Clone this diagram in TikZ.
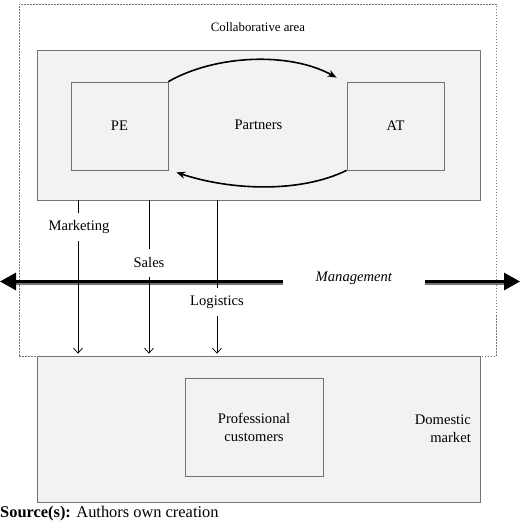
\documentclass[tikz,border=0pt]{standalone}
\usepackage{fontspec}
\setmainfont{Liberation Serif}
\usetikzlibrary{arrows,arrows.meta}

\definecolor{boxgray}{gray}{0.95}
\definecolor{linegray}{gray}{0.45}

\begin{document}
\begin{tikzpicture}[>=stealth, x=1pt, y=1pt, every node/.style={font=\fontsize{14.6}{18}\selectfont}]
			\tikzstyle{area} = [draw=linegray, line width=0.7pt, fill=boxgray, inner sep=0pt]
			\tikzstyle{box} = [draw=linegray, line width=0.7pt, inner sep=0pt, align=center]
			\tikzstyle{flowlabel} = [fill=white, inner xsep=2pt, inner ysep=0pt, minimum height=28pt]
			\tikzstyle{flow} = [line width=0.7pt, -{Straight Barb[length=5pt,width=9pt]}, shorten >=2pt]
			\tikzstyle{swap} = [line width=1.6pt, -{Stealth[length=9pt,width=7pt]}]
			\tikzstyle{mgmtline} = [line width=3pt, -{Triangle[length=16pt,width=17pt]},
				preaction={draw=linegray, line width=2.5pt, -, shorten >=15pt, transform canvas={yshift=-2pt}}]
			\useasboundingbox (0,0) rectangle (520,524);

			% collaborative area
			\node[area, minimum width=443pt, minimum height=150pt] (partners) at (258.5,399) {Partners};
			\node[box, minimum width=97pt, minimum height=88pt] (pe) at (119.5,398) {PE};
			\node[box, minimum width=97pt, minimum height=88pt] (at) at (395.5,398) {AT};
			\node[font=\fontsize{12.8}{15}\selectfont] (collab) at (258,497) {Collaborative area};

			% domestic market
			\node[area, minimum width=443pt, minimum height=146pt] (domestic) at (258.5,95) {};
			\node[box, minimum width=138pt, minimum height=98pt] (prof) at (254,97) {Professional\\customers};
			\node[align=right, anchor=east, inner sep=0pt] (dm) at (471,95) {Domestic\\market};

			\draw[linegray, line width=0.6pt, dash pattern=on 1.5pt off 1.5pt] (19,168) rectangle (496,520);

			% management
			\coordinate (ml) at (0,242.5);
			\coordinate (mr) at (520,242.5);
			\node[inner xsep=33pt] (mgmt) at (354,246) {\textit{Management}};
			\draw[mgmtline] ([yshift=-3.5pt]mgmt.west) -- (ml);
			\draw[mgmtline] ([yshift=-3.5pt]mgmt.east) -- (mr);

			% flows
			\coordinate (mkpos) at (78,297);
			\coordinate (slpos) at (149,261);
			\coordinate (lgpos) at (217,222);
			\draw[flow] (partners.south -| mkpos) -- (domestic.north -| mkpos);
			\draw[flow] (partners.south -| slpos) -- (domestic.north -| slpos);
			\draw[flow] (partners.south -| lgpos) -- (domestic.north -| lgpos);
			\node[flowlabel] (mk) at ([xshift=1pt]mkpos) {Marketing};
			\node[flowlabel] (sl) at (slpos) {Sales};
			\node[flowlabel] (lg) at (lgpos) {Logistics};

			% exchange between partners
			\draw[swap] (pe.north east) .. controls +(47,27) and +(-47,26) .. ([shift={(-10pt,4pt)}]at.north west);
			\draw[swap] (at.south west) .. controls +(-47,-23) and +(54,-18) .. ([shift={(8pt,-2pt)}]pe.south east);

			\node[anchor=base west, inner sep=0pt, font=\fontsize{16.4}{19}\selectfont] (src) at (0,6) {\textbf{Source(s):} Authors own creation};
\end{tikzpicture}
\end{document}
